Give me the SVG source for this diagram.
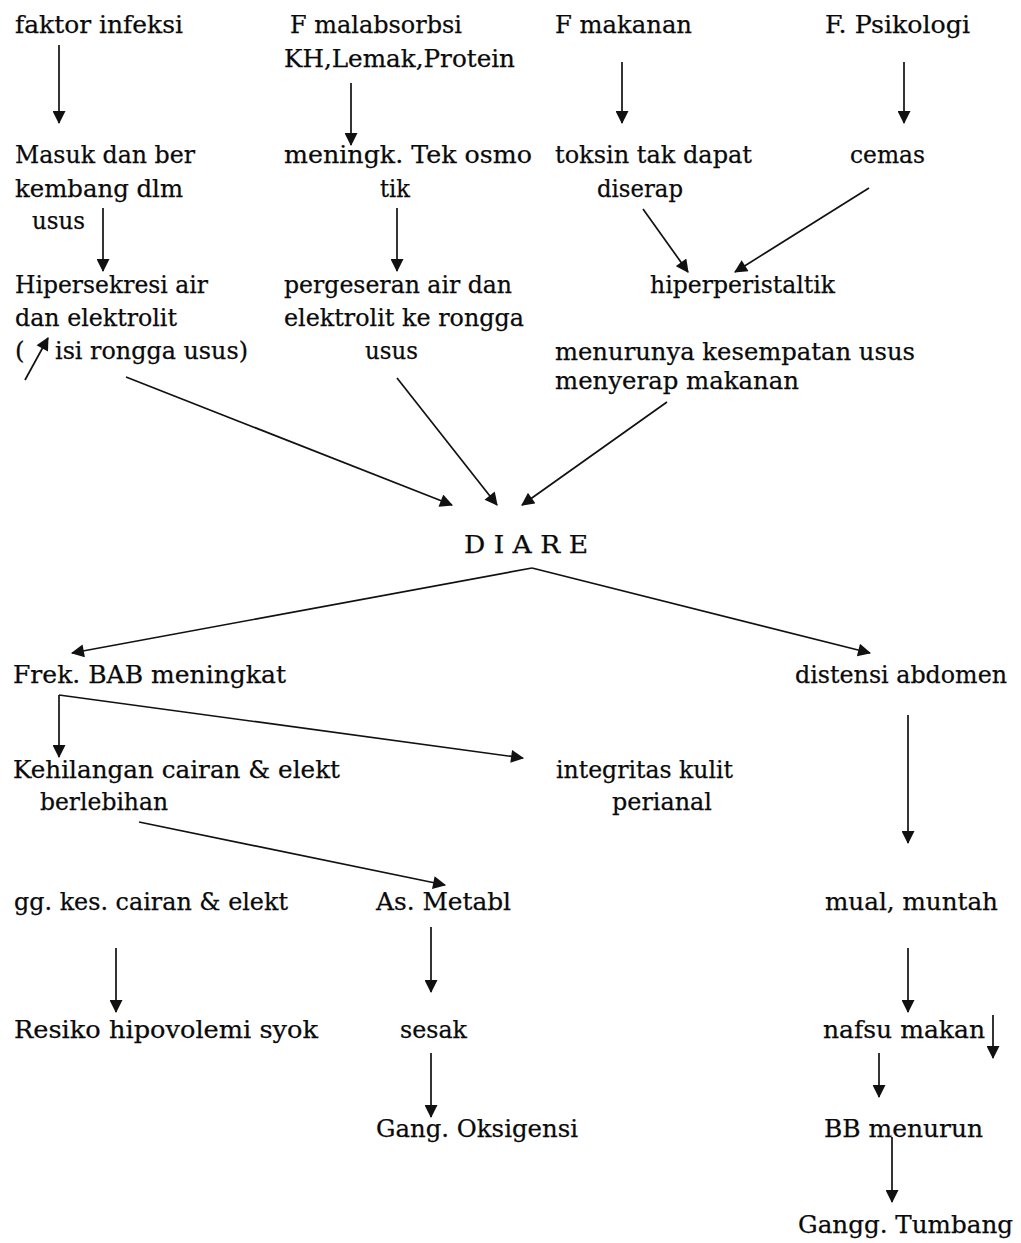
<svg xmlns="http://www.w3.org/2000/svg" width="1021" height="1243" viewBox="0 0 1021 1243">
<style>
text{font-family:"DejaVu Serif","Liberation Serif",serif;font-size:24.5px;fill:#0a0a0a;stroke:#0a0a0a;stroke-width:0.25}
.c line{stroke:#111;stroke-width:1.7;marker-end:url(#ah)}
</style>
<defs>
<marker id="ah" viewBox="0 0 12 12" refX="11" refY="6" markerWidth="14" markerHeight="13" markerUnits="userSpaceOnUse" orient="auto">
<path d="M0,0 L12,6 L0,12 z" fill="#111"/>
</marker>
</defs>
<rect width="1021" height="1243" fill="#fff"/>
<g id="n-infeksi"><text x="15" y="33" textLength="168" lengthAdjust="spacingAndGlyphs">faktor infeksi</text></g>
<g id="n-malabsorbsi"><text x="290" y="33" textLength="172" lengthAdjust="spacingAndGlyphs">F malabsorbsi</text><text x="284" y="67" textLength="231" lengthAdjust="spacingAndGlyphs">KH,Lemak,Protein</text></g>
<g id="n-makanan"><text x="555" y="33" textLength="137" lengthAdjust="spacingAndGlyphs">F makanan</text></g>
<g id="n-psikologi"><text x="825" y="33" textLength="145" lengthAdjust="spacingAndGlyphs">F. Psikologi</text></g>
<g id="n-masuk"><text x="15" y="163" textLength="180" lengthAdjust="spacingAndGlyphs">Masuk dan ber</text><text x="15" y="197" textLength="168" lengthAdjust="spacingAndGlyphs">kembang dlm</text><text x="32" y="229" textLength="53" lengthAdjust="spacingAndGlyphs">usus</text></g>
<g id="n-osmotik"><text x="284" y="163" textLength="248" lengthAdjust="spacingAndGlyphs">meningk. Tek osmo</text><text x="380" y="197" textLength="30" lengthAdjust="spacingAndGlyphs">tik</text></g>
<g id="n-toksin"><text x="555" y="163" textLength="197" lengthAdjust="spacingAndGlyphs">toksin tak dapat</text><text x="597" y="197" textLength="86" lengthAdjust="spacingAndGlyphs">diserap</text></g>
<g id="n-cemas"><text x="850" y="163" textLength="75" lengthAdjust="spacingAndGlyphs">cemas</text></g>
<g id="n-hipersekresi"><text x="15" y="293" textLength="193" lengthAdjust="spacingAndGlyphs">Hipersekresi air</text><text x="15" y="326" textLength="162" lengthAdjust="spacingAndGlyphs">dan elektrolit</text><text x="15" y="359">(</text><text x="55" y="359" textLength="193" lengthAdjust="spacingAndGlyphs">isi rongga usus)</text></g>
<g id="n-pergeseran"><text x="284" y="293" textLength="228" lengthAdjust="spacingAndGlyphs">pergeseran air dan</text><text x="284" y="326" textLength="240" lengthAdjust="spacingAndGlyphs">elektrolit ke rongga</text><text x="365" y="359" textLength="53" lengthAdjust="spacingAndGlyphs">usus</text></g>
<g id="n-hiperperistaltik"><text x="650" y="293" textLength="185" lengthAdjust="spacingAndGlyphs">hiperperistaltik</text></g>
<g id="n-menurunya"><text x="555" y="360" textLength="360" lengthAdjust="spacingAndGlyphs">menurunya kesempatan usus</text><text x="555" y="389" textLength="244" lengthAdjust="spacingAndGlyphs">menyerap makanan</text></g>
<g id="n-diare"><text x="464" y="553" textLength="124" lengthAdjust="spacingAndGlyphs">D I A R E</text></g>
<g id="n-frek"><text x="13" y="683" textLength="273" lengthAdjust="spacingAndGlyphs">Frek. BAB meningkat</text></g>
<g id="n-distensi"><text x="795" y="683" textLength="212" lengthAdjust="spacingAndGlyphs">distensi abdomen</text></g>
<g id="n-kehilangan"><text x="13" y="778" textLength="327" lengthAdjust="spacingAndGlyphs">Kehilangan cairan &amp; elekt</text><text x="40" y="810" textLength="128" lengthAdjust="spacingAndGlyphs">berlebihan</text></g>
<g id="n-integritas"><text x="556" y="778" textLength="177" lengthAdjust="spacingAndGlyphs">integritas kulit</text><text x="612" y="810" textLength="100" lengthAdjust="spacingAndGlyphs">perianal</text></g>
<g id="n-ggkes"><text x="14" y="910" textLength="274" lengthAdjust="spacingAndGlyphs">gg. kes. cairan &amp; elekt</text></g>
<g id="n-asmetabl"><text x="376" y="910" textLength="135" lengthAdjust="spacingAndGlyphs">As. Metabl</text></g>
<g id="n-mual"><text x="825" y="910" textLength="173" lengthAdjust="spacingAndGlyphs">mual, muntah</text></g>
<g id="n-resiko"><text x="14" y="1038" textLength="304" lengthAdjust="spacingAndGlyphs">Resiko hipovolemi syok</text></g>
<g id="n-sesak"><text x="400" y="1038" textLength="67" lengthAdjust="spacingAndGlyphs">sesak</text></g>
<g id="n-nafsu"><text x="823" y="1038" textLength="162" lengthAdjust="spacingAndGlyphs">nafsu makan</text></g>
<g id="n-oksigensi"><text x="376" y="1137" textLength="202" lengthAdjust="spacingAndGlyphs">Gang. Oksigensi</text></g>
<g id="n-bb"><text x="824" y="1137" textLength="159" lengthAdjust="spacingAndGlyphs">BB menurun</text></g>
<g id="n-tumbang"><text x="798" y="1233" textLength="215" lengthAdjust="spacingAndGlyphs">Gangg. Tumbang</text></g>
<g id="connectors" class="c">
<line x1="59" y1="45" x2="59" y2="123"/>
<line x1="351" y1="83" x2="351" y2="145"/>
<line x1="622" y1="62" x2="622" y2="123"/>
<line x1="904" y1="62" x2="904" y2="123"/>
<line x1="103" y1="208" x2="103" y2="271"/>
<line x1="397" y1="208" x2="397" y2="271"/>
<line x1="643" y1="209" x2="688" y2="272"/>
<line x1="869" y1="188" x2="735" y2="272"/>
<line x1="25" y1="380" x2="48" y2="338"/>
<line x1="126" y1="377" x2="452" y2="505"/>
<line x1="397" y1="378" x2="497" y2="505"/>
<line x1="667" y1="402" x2="522" y2="505"/>
<line x1="532" y1="568" x2="72" y2="653"/>
<line x1="532" y1="568" x2="870" y2="653"/>
<line x1="59" y1="695" x2="59" y2="757"/>
<line x1="59" y1="695" x2="523" y2="758"/>
<line x1="908" y1="715" x2="908" y2="843"/>
<line x1="139" y1="822" x2="445" y2="885"/>
<line x1="116" y1="948" x2="116" y2="1012"/>
<line x1="431" y1="927" x2="431" y2="992"/>
<line x1="908" y1="948" x2="908" y2="1012"/>
<line x1="993" y1="1015" x2="993" y2="1058"/>
<line x1="879" y1="1053" x2="879" y2="1097"/>
<line x1="431" y1="1053" x2="431" y2="1117"/>
<line x1="892" y1="1137" x2="892" y2="1202"/>
</g>
</svg>
